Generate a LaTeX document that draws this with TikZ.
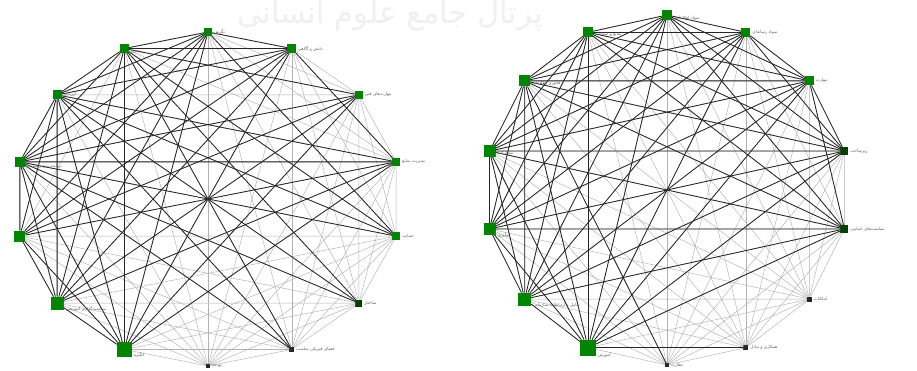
\documentclass[tikz,border=0pt]{standalone}
\usepackage{fontspec}
\newfontfamily\fa[Script=Arabic]{DejaVu Sans}
\TeXXeTstate=1
\tikzset{
  lite/.style={draw=gray!60,line width=0.38pt},
  dark/.style={draw=black!85,line width=0.7pt},
  gnode/.style={draw=none,fill=green!52!black,minimum size=#1*0.03cm,inner sep=0pt,outer sep=0pt},
  dnode/.style={draw=none,fill=black!75!green,minimum size=#1*0.03cm,inner sep=0pt,outer sep=0pt},
  knode/.style={draw=none,fill=black!85,minimum size=#1*0.03cm,inner sep=0pt,outer sep=0pt},
  lbl/.style={anchor=west,inner sep=0.5pt,text=gray!75!black,font=\fa\fontsize{3.6}{4}\selectfont},
  wm/.style={text=gray!12,font=\fa\fontsize{26}{28}\selectfont}
}
\begin{document}
\begin{tikzpicture}[x=0.03cm,y=-0.03cm]
\useasboundingbox (0,0) rectangle (917,371);
\fill[white] (0,0) rectangle (917,371);
\node[wm] (wmark) at (390,16) {\beginR پرتال جامع علوم انسانی\endR};

% ---------- left graph nodes ----------
\foreach \k/\s/\st in {0/8/gnode,1/9/gnode,2/8/gnode,3/8/gnode,4/8/gnode,5/7/dnode,6/5/knode,7/4/knode,8/15/gnode,9/13/gnode,10/11/gnode,11/10/gnode,12/9/gnode,13/9/gnode}{
  \pgfmathsetmacro\ang{90-\k*360/14}
  \node[\st=\s] (L\k) at ({208+193*cos(\ang)},{199-167*sin(\ang)}) {};
}
% ---------- right graph nodes ----------
\foreach \k/\s/\st in {0/10/gnode,1/9/gnode,2/9/gnode,3/8/dnode,4/8/dnode,5/5/knode,6/5/knode,7/4/knode,8/16/gnode,9/13/gnode,10/12/gnode,11/12/gnode,12/11/gnode,13/10/gnode}{
  \pgfmathsetmacro\ang{90-\k*360/14}
  \node[\st=\s] (R\k) at ({667+182*cos(\ang)},{190-175*sin(\ang)}) {};
}

% ---------- light edges (all pairs) ----------
\foreach \i in {0,...,12}{
  \pgfmathtruncatemacro\nx{\i+1}
  \foreach \j in {\nx,...,13}{
    \draw[lite] (L\i) -- (L\j);
    \draw[lite] (R\i) -- (R\j);
  }
}

% ---------- dark edges left ----------
\foreach \i/\j in {0/1,0/8,0/9,0/10,0/11,0/12,0/13,
  1/3,1/8,1/9,1/10,1/11,1/12,1/13,
  2/8,2/9,2/10,2/11,2/13,
  3/8,3/9,3/10,3/11,3/12,
  8/9,8/10,8/11,8/12,8/13,
  9/10,9/11,9/12,9/13,
  10/11,10/12,
  11/12,11/13,12/13,
  13/5,12/5,11/5,13/4,12/4,11/4,0/4,12/6,11/6,13/6}{
  \draw[dark] (L\i) -- (L\j);
}
% ---------- dark edges right ----------
\foreach \i/\j in {0/1,0/2,0/3,0/4,0/8,0/9,0/10,0/11,0/12,0/13,
  1/2,1/3,1/8,1/9,1/10,1/11,1/12,1/13,
  2/3,2/4,2/8,2/9,2/10,2/11,2/12,2/13,
  3/8,3/9,3/10,3/11,3/12,3/13,
  4/8,4/9,4/10,4/11,4/12,4/13,
  8/9,8/10,8/11,8/12,8/13,
  9/10,9/11,9/12,9/13,
  10/11,10/12,10/13,
  11/12,11/13,12/13,
  12/7,8/6}{
  \draw[dark] (R\i) -- (R\j);
}

% ---------- labels left ----------
\node[lbl] (tL0) at ([xshift=1]L0.east) {\beginR نگرش\endR};
\node[lbl] (tL1) at ([xshift=1]L1.east) {\beginR دانش و آگاهی\endR};
\node[lbl] (tL2) at ([xshift=1]L2.east) {\beginR مهارت‌های فنی\endR};
\node[lbl] (tL3) at ([xshift=1]L3.east) {\beginR مدیریت منابع\endR};
\node[lbl] (tL4) at ([xshift=1]L4.east) {\beginR حمایت\endR};
\node[lbl] (tL5) at ([xshift=1]L5.east) {\beginR ساختار\endR};
\node[lbl] (tL6) at ([xshift=1]L6.east) {\beginR فضای فیزیکی مناسب\endR};
\node[lbl] (tL7) at ([xshift=1]L7.east) {\beginR بودجه\endR};
\node[lbl] (tL8) at ([xshift=1,yshift=-5]L8.east) {\beginR انگیزه\endR};
\node[lbl] (tL9) at ([xshift=1,yshift=-5]L9.east) {\beginR سیاست‌گذاری آموزشی\endR};
\node[lbl] (tL11) at ([xshift=1,yshift=-4]L11.east) {\beginR برنامه‌ریزی راهبردی\endR};
\node[lbl] (tL12) at ([xshift=1]L12.east) {\beginR ارزیابی\endR};
\node[lbl] (tL13) at ([xshift=1,yshift=-3]L13.east) {\beginR رهبری\endR};
% ---------- labels right ----------
\node[lbl] (tR0) at ([xshift=1,yshift=-3]R0.east) {\beginR سواد اطلاعاتی\endR};
\node[lbl] (tR1) at ([xshift=1]R1.east) {\beginR سواد رسانه‌ای\endR};
\node[lbl] (tR2) at ([xshift=1]R2.east) {\beginR مهارت\endR};
\node[lbl] (tR3) at ([xshift=1]R3.east) {\beginR زیرساخت\endR};
\node[lbl] (tR4) at ([xshift=1]R4.east) {\beginR سیاست‌های حمایتی\endR};
\node[lbl] (tR5) at ([xshift=1]R5.east) {\beginR امکانات\endR};
\node[lbl] (tR6) at ([xshift=1]R6.east) {\beginR همکاری و تبادل\endR};
\node[lbl] (tR7) at ([xshift=1]R7.east) {\beginR نظارت\endR};
\node[lbl] (tR8) at ([xshift=1,yshift=-6]R8.east) {\beginR آموزش\endR};
\node[lbl] (tR9) at ([xshift=1,yshift=-5]R9.east) {\beginR تعامل و ارتباطات سازمانی\endR};
\node[lbl] (tR10) at ([xshift=1,yshift=-5]R10.east) {\beginR نوآوری\endR};
\node[lbl] (tR11) at ([xshift=1,yshift=-2]R11.east) {\beginR مشارکت\endR};
\node[lbl] (tR12) at ([xshift=1,yshift=-2]R12.east) {\beginR فناوری اطلاعات\endR};
\node[lbl] (tR13) at ([xshift=1,yshift=-2]R13.east) {\beginR منابع و امکانات\endR};
\end{tikzpicture}
\end{document}
